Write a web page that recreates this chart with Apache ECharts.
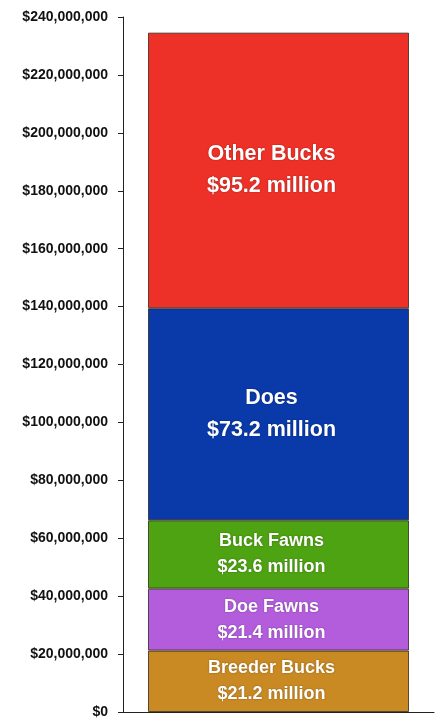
<!DOCTYPE html>
<html>
<head>
<meta charset="utf-8">
<title>Value by class</title>
<script src="https://cdn.jsdelivr.net/npm/echarts@6/dist/echarts.min.js"></script>
<style>
html,body{margin:0;padding:0;background:#fff;}
#chart{width:435px;height:719px;}
</style>
</head>
<body>
<div id="chart"></div>
<script>
// segments from bottom to top
var names = ['Breeder Bucks', 'Doe Fawns', 'Buck Fawns', 'Does', 'Other Bucks'];
var values = [21200000, 21400000, 23600000, 73200000, 95200000];
var labels = ['$21.2 million', '$21.4 million', '$23.6 million', '$73.2 million', '$95.2 million'];
var colors = ['#c98a24', '#b35ddd', '#4ea312', '#0a3aaa', '#ee3128'];
var bigLabel = [false, false, false, true, true];

var myChart = echarts.init(document.getElementById('chart'));

function money(v) {
    return '$' + v.toString().replace(/\B(?=(\d{3})+(?!\d))/g, ',');
}

var series = [];
for (var i = 0; i < names.length; i++) {
    series.push({
        name: names[i],
        type: 'bar',
        stack: 'total',
        barWidth: 261,
        data: [values[i]],
        itemStyle: {
            color: colors[i],
            borderColor: 'rgba(40,30,20,0.75)',
            borderWidth: 1
        },
        label: {
            show: true,
            position: 'inside',
            offset: [-7, 0],
            formatter: names[i] + '\n' + labels[i],
            color: '#fff',
            fontFamily: 'Liberation Sans, Arial, sans-serif',
            fontWeight: 'bold',
            fontSize: bigLabel[i] ? 21.5 : 18,
            lineHeight: bigLabel[i] ? 32 : 26,
            textShadowColor: 'rgba(0,0,0,0.35)',
            textShadowBlur: 2
        }
    });
}

var option = {
    animation: false,
    grid: {left: 123, right: 1, top: 17, bottom: 6},
    xAxis: {
        type: 'category',
        data: ['Total'],
        axisLine: {show: true, lineStyle: {color: '#222', width: 1}},
        axisTick: {show: false},
        axisLabel: {show: false}
    },
    yAxis: {
        type: 'value',
        min: 0,
        max: 240000000,
        interval: 20000000,
        splitLine: {show: false},
        axisLine: {show: true, lineStyle: {color: '#222', width: 1}},
        axisTick: {show: true, length: 5, lineStyle: {color: '#222'}},
        axisLabel: {
            formatter: money,
            color: '#111',
            fontFamily: 'Liberation Sans, Arial, sans-serif',
            fontWeight: 'bold',
            fontSize: 14,
            margin: 15
        }
    },
    series: series
};
myChart.setOption(option);
</script>
</body>
</html>
